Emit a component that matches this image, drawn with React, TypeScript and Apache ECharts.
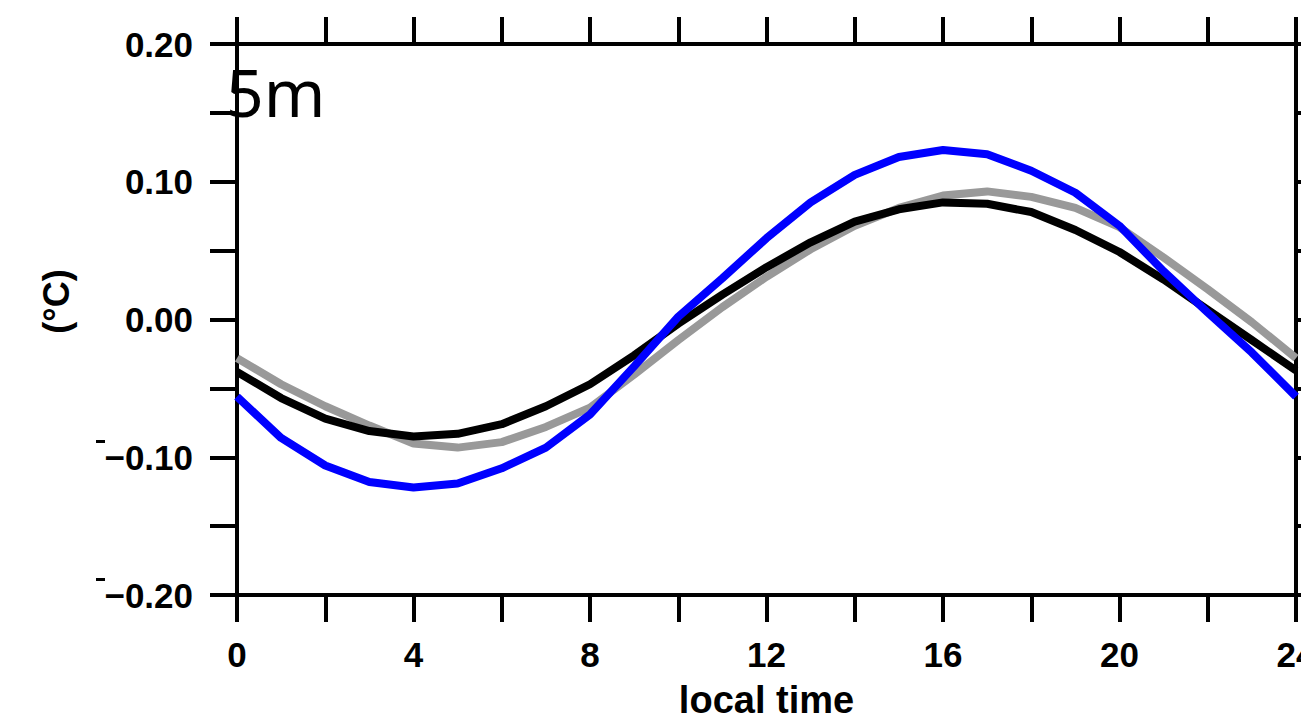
import React, { useEffect, useRef } from "react";
import * as echarts from "echarts";

const hours = [0, 1, 2, 3, 4, 5, 6, 7, 8, 9, 10, 11, 12, 13, 14, 15, 16, 17, 18, 19, 20, 21, 22, 23, 24];

const blueValues = [-0.056, -0.086, -0.106, -0.118, -0.122, -0.119, -0.108, -0.093, -0.069, -0.034, 0.002, 0.030, 0.059, 0.085, 0.105, 0.118, 0.123, 0.120, 0.108, 0.092, 0.068, 0.035, 0.005, -0.024, -0.056];
const blackValues = [-0.038, -0.057, -0.072, -0.081, -0.085, -0.083, -0.076, -0.063, -0.047, -0.026, -0.003, 0.018, 0.038, 0.056, 0.071, 0.080, 0.085, 0.084, 0.078, 0.065, 0.049, 0.029, 0.007, -0.015, -0.037];
const grayValues = [-0.028, -0.047, -0.063, -0.077, -0.090, -0.093, -0.089, -0.078, -0.064, -0.040, -0.015, 0.009, 0.031, 0.051, 0.068, 0.081, 0.090, 0.093, 0.089, 0.081, 0.067, 0.045, 0.022, -0.002, -0.028];

const xTickLabels = ["0", "4", "8", "12", "16", "20", "24"];
const yTickLabels = ["−0.20", "−0.10", "0.00", "0.10", "0.20"];

const panelTitle = "5m";
const xName = "local time";
const yName = "(°C)";

const FONT = "'Liberation Sans', Arial, sans-serif";

export default function App() {
  const ref = useRef<HTMLDivElement>(null);
  useEffect(() => {
    if (!ref.current) return;
    const chart = echarts.init(ref.current, undefined, { renderer: "svg" });
    const pair = (vals: number[]) => hours.map((h, i) => [h, vals[i]]);
    const axisLine = { show: true, onZero: false, lineStyle: { color: "#000", width: 4 } };
    const axisTick = { show: true, inside: false, length: 27, lineStyle: { color: "#000", width: 4 } };
    const xFmt = (v: number) => {
      const s = String(Math.round(v));
      return xTickLabels.includes(s) ? s : "";
    };
    const yFmt = (v: number) => {
      const r = Math.round(v * 100);
      if (r % 10 !== 0) return "";
      const s = (r < 0 ? "−" : "") + (Math.abs(r) / 100).toFixed(2);
      return yTickLabels.includes(s) ? s : "";
    };
    chart.setOption({
      animation: false,
      backgroundColor: "#fff",
      grid: { left: 237, top: 44, right: 5, bottom: 126, containLabel: false, outerBoundsMode: "none" },
      xAxis: [
        {
          type: "value",
          position: "bottom",
          min: 0,
          max: 24,
          interval: 2,
          axisLine,
          axisTick,
          splitLine: { show: false },
          axisLabel: {
            formatter: xFmt,
            fontSize: 35,
            fontWeight: "bold",
            fontFamily: FONT,
            color: "#000",
            margin: 42,
            hideOverlap: false,
          },
          name: xName,
          nameLocation: "middle",
          nameGap: 86,
          nameTextStyle: { fontSize: 38, fontWeight: "bold", fontFamily: FONT, color: "#000" },
        },
        {
          type: "value",
          position: "top",
          min: 0,
          max: 24,
          interval: 2,
          axisLine,
          axisTick,
          splitLine: { show: false },
          axisLabel: { show: false },
        },
      ],
      yAxis: [
        {
          type: "value",
          position: "left",
          min: -0.2,
          max: 0.2,
          interval: 0.05,
          axisLine,
          axisTick,
          splitLine: { show: false },
          axisLabel: {
            formatter: yFmt,
            fontSize: 35,
            fontWeight: "bold",
            fontFamily: FONT,
            color: "#000",
            margin: 44,
          },
          name: yName,
          nameLocation: "middle",
          nameRotate: 90,
          nameGap: 163,
          nameTextStyle: {
            fontSize: 36,
            fontWeight: "bold",
            fontFamily: FONT,
            color: "#000",
            padding: [0, 0, 0, 36],
          },
        },
        {
          type: "value",
          position: "right",
          min: -0.2,
          max: 0.2,
          interval: 0.05,
          axisLine,
          axisTick,
          splitLine: { show: false },
          axisLabel: { show: false },
        },
      ],
      series: [
        {
          name: "gray",
          type: "line",
          data: pair(grayValues),
          showSymbol: false,
          lineStyle: { color: "#999999", width: 8 },
        },
        {
          name: "black",
          type: "line",
          data: pair(blackValues),
          showSymbol: false,
          lineStyle: { color: "#000000", width: 8 },
        },
        {
          name: "blue",
          type: "line",
          data: pair(blueValues),
          showSymbol: false,
          lineStyle: { color: "#0000ff", width: 8 },
        },
      ],
      graphic: [
        {
          type: "text",
          left: 226,
          top: 58,
          z: 100,
          style: { text: panelTitle, fontSize: 66, fontFamily: "'Noto Sans', sans-serif", fill: "#000" },
        },
        { type: "rect", shape: { x: 96, y: 440, width: 9, height: 3 }, style: { fill: "#000" } },
        { type: "rect", shape: { x: 96, y: 578, width: 9, height: 3 }, style: { fill: "#000" } },
      ],
    });
    return () => chart.dispose();
  }, []);
  return (
    <div
      ref={ref}
      style={{ position: "fixed", left: 0, top: 0, width: 1301, height: 721, background: "#fff" }}
    />
  );
}
